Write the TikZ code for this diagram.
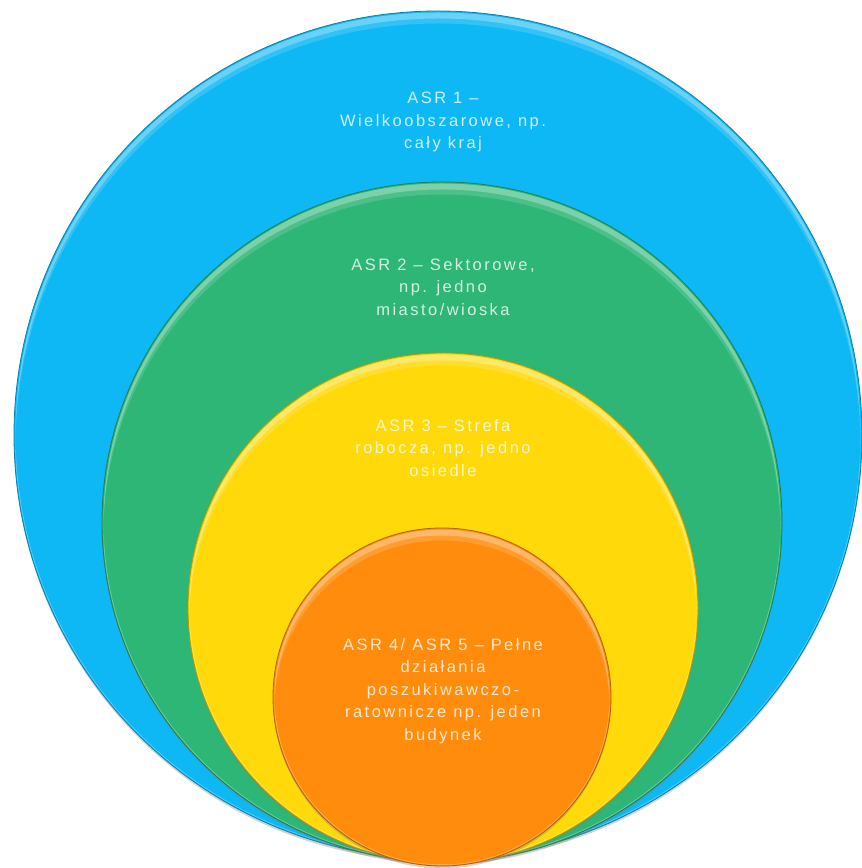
\documentclass[tikz,border=0pt]{standalone}
\usepackage{fontspec}
\setmainfont{Liberation Sans}[LetterSpace=15]
\usetikzlibrary{shadows}

\definecolor{asrblue}{HTML}{0DB8F5}
\definecolor{asrgreen}{HTML}{2DB676}
\definecolor{asryellow}{HTML}{FFD90A}
\definecolor{asrorange}{HTML}{FF8C0C}

\tikzset{
    zone/.style={circle, fill=#1, draw=#1!70!black, line width=0.8pt, inner sep=0pt,
        drop shadow={opacity=0.35, shadow xshift=0pt, shadow yshift=-2.5pt}},
    zonetext/.style={text=white, text opacity=0.8, align=center,
        font=\fontsize{16.5}{22.5}\selectfont},
}
% light crescent along the top of a zone: node, radius
\newcommand{\ZoneGlow}[2]{%
    \begin{scope}
        \clip (#1.center) circle (#2pt-1pt);
        \fill[white, opacity=0.28, even odd rule] (#1.center) circle (#2pt-1.5pt)
            ([yshift=-6pt]#1.center) circle (#2pt-1.5pt);
        \fill[white, opacity=0.15, even odd rule] (#1.center) circle (#2pt-1.5pt)
            ([yshift=-11pt]#1.center) circle (#2pt-1.5pt);
    \end{scope}%
}

\begin{document}
\begin{tikzpicture}[x=1pt,y=1pt]
    \clip (0,0) rectangle (862,868);

    \node[zone=asrblue, minimum size=848pt] (asr1) at (438,433) {};
    \ZoneGlow{asr1}{424}
    \node[zone=asrgreen, minimum size=680pt] (asr2) at (442,346) {};
    \ZoneGlow{asr2}{340}
    \node[zone=asryellow, minimum size=510pt] (asr3) at (443,260) {};
    \ZoneGlow{asr3}{255}
    \node[zone=asrorange, minimum size=338pt] (asr4) at (442,171) {};
    \ZoneGlow{asr4}{169}

    \node[zonetext] (t1) at (443,746) {ASR 1 –\\Wielkoobszarowe, np.\\cały kraj};
    \node[zonetext] (t2) at (443,581) {ASR 2 – Sektorowe,\\np. jedno\\miasto/wioska};
    \node[zonetext] (t3) at (443,420) {ASR 3 – Strefa\\robocza, np. jedno\\osiedle};
    \node[zonetext] (t4) at (443,177) {ASR 4/ ASR 5 – Pełne\\działania\\poszukiwawczo-\\ratownicze np. jeden\\budynek};
\end{tikzpicture}
\end{document}
